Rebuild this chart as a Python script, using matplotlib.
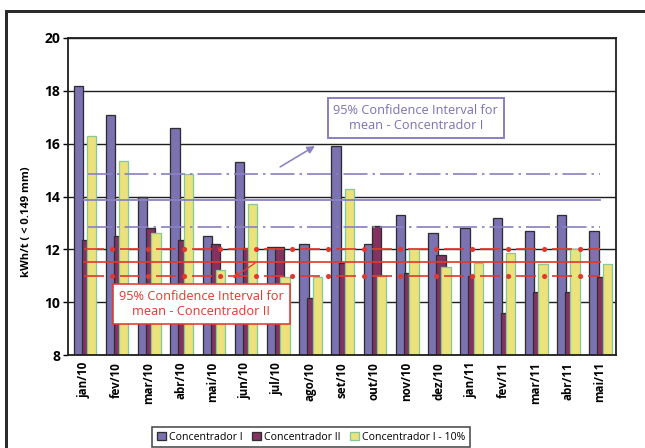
import numpy as np
import matplotlib
matplotlib.use("Agg")
import matplotlib.pyplot as plt
from matplotlib.patches import Rectangle

# monthly specific energy (kWh/t, < 0.149 mm)
months = ["jan/10", "fev/10", "mar/10", "abr/10", "mai/10", "jun/10", "jul/10", "ago/10",
          "set/10", "out/10", "nov/10", "dez/10", "jan/11", "fev/11", "mar/11", "abr/11", "mai/11"]
conc_1 = [18.2, 17.1, 14.0, 16.6, 12.5, 15.3, 12.1, 12.2, 15.9, 12.2, 13.3, 12.6, 12.8, 13.2, 12.7, 13.3, 12.7]
conc_2 = [12.35, 12.5, 12.8, 12.35, 12.2, 12.05, 12.1, 10.15, 11.5, 12.9, 11.1, 11.8, 11.0, 9.6, 10.4, 10.4, 10.95]
conc_1_10 = [16.3, 15.35, 12.6, 14.85, 11.2, 13.7, 10.95, 10.95, 14.3, 11.0, 12.0, 11.35, 11.5, 11.85, 11.45, 12.0, 11.45]

# 95% confidence intervals for the mean
ci_1 = [12.86, 13.87, 14.87]   # low, mean, high
ci_2 = [11.0, 11.51, 12.03]

y_ticks = [8, 10, 12, 14, 16, 18, 20]

PURPLE = "#7b72b2"
MAROON = "#833262"
YELLOW = "#ece27c"
GREEN_EDGE = "#86c896"
RED = "#e2392f"
LINE_PURPLE = "#8a82c2"

plt.rcParams["font.family"] = ["Open Sans", "DejaVu Sans"]
plt.rcParams["lines.scale_dashes"] = False


def pt(px):
    return px * 72.0 / 100.0


W, H = 645, 448
fig = plt.figure(figsize=(W / 100, H / 100), dpi=100)

# outer frame (runs off the right and bottom of the picture)
fig.patches.append(Rectangle((6 / W, -0.1), 1.2, 1 - 11 / H + 0.1, transform=fig.transFigure,
                             fill=False, edgecolor="#2b2b2b", linewidth=pt(3)))

ax = fig.add_axes([68 / W, (H - 355) / H, 548 / W, 317 / H])

x = np.arange(len(months))
bw = 0.29
ax.bar(x - 0.181, conc_1, bw, color=PURPLE, edgecolor="#2e2e2e", linewidth=pt(1.3),
       label="Concentrador I", zorder=2)
ax.bar(x + 0.067, conc_2, bw, color=MAROON, edgecolor="#2e2e2e", linewidth=pt(1.3),
       label="Concentrador II", zorder=2)
ax.bar(x + 0.231, conc_1_10, bw, color=YELLOW, edgecolor=GREEN_EDGE, linewidth=pt(1.3),
       label="Concentrador I - 10%", zorder=2)

# confidence interval lines
xs = [x[0], x[-1]]
for v in (ci_1[0], ci_1[2]):
    ax.plot(xs, [v, v], color=LINE_PURPLE, lw=pt(1.7),
            linestyle=(pt(-4), (pt(24), pt(5), pt(2.5), pt(5))), zorder=3)
ax.plot(xs, [ci_1[1]] * 2, color=LINE_PURPLE, lw=pt(1.8), zorder=3)

for v in (ci_2[0], ci_2[2]):
    ax.plot(xs, [v, v], color=RED, lw=pt(1.7),
            linestyle=(0, (pt(20), pt(16))), zorder=3)
    ax.plot(xs, [v, v], color=RED, lw=pt(5.2), dash_capstyle="round",
            linestyle=(pt(-28), (pt(0.01), pt(36))), zorder=3)
ax.plot(xs, [ci_2[1]] * 2, color=RED, lw=pt(1.7), zorder=3)

ax.set_xlim(-0.5, len(months) - 0.5)
ax.set_ylim(8, 20)
ax.set_yticks(y_ticks)
ax.yaxis.grid(True, color="#1e1e1e", linewidth=pt(1.4), zorder=0)
ax.set_axisbelow(True)
for s in ax.spines.values():
    s.set_color("#1e1e1e")
    s.set_linewidth(pt(1.8))

ax.set_xticks(x)
ax.set_xticklabels(months, rotation=90, fontsize=8.4, fontweight="bold")
ax.tick_params(axis="x", length=0, pad=5)
ax.tick_params(axis="y", length=pt(5), width=pt(1.4), labelsize=10, pad=2)
for lab in ax.get_yticklabels():
    lab.set_fontweight("bold")

fig.text(27 / W, 1 - 222 / H, "kWh/t ( < 0.149 mm)", rotation=90, fontsize=8,
         fontweight="bold", ha="center", va="center")

# annotation boxes
ax.text(10.29, 16.97, "95% Confidence Interval for\nmean - Concentrador I", color=PURPLE,
        fontsize=9.2, ha="center", va="center", linespacing=1.2, zorder=5,
        bbox=dict(boxstyle="square,pad=0.45", facecolor="white", edgecolor=LINE_PURPLE,
                  linewidth=pt(2)))
ax.annotate("", xy=(7.16, 15.91), xytext=(6.08, 15.12),
            arrowprops=dict(arrowstyle="-|>", color=LINE_PURPLE, lw=pt(1.6),
                            mutation_scale=11, shrinkA=0, shrinkB=0), zorder=5)

ax.text(3.64, 9.93, "95% Confidence Interval for\nmean - Concentrador II", color=RED,
        fontsize=9.2, ha="center", va="center", linespacing=1.2, zorder=5,
        bbox=dict(boxstyle="square,pad=0.45", facecolor="white", edgecolor=RED,
                  linewidth=pt(1.6)))
ax.annotate("", xy=(4.62, 10.91), xytext=(5.3, 11.48),
            arrowprops=dict(arrowstyle="-|>", color=RED, lw=pt(1.3),
                            mutation_scale=9, shrinkA=0, shrinkB=0), zorder=5)

leg = fig.legend(loc="center", bbox_to_anchor=(311 / W, 1 - 437 / H), ncol=3,
                 fontsize=7.6, frameon=True, fancybox=False, handlelength=0.85,
                 handleheight=0.85, handletextpad=0.3, columnspacing=0.9,
                 borderpad=0.4)
leg.get_frame().set_edgecolor("#1e1e1e")
leg.get_frame().set_linewidth(pt(1.6))

fig.savefig("out.png", dpi=100)
